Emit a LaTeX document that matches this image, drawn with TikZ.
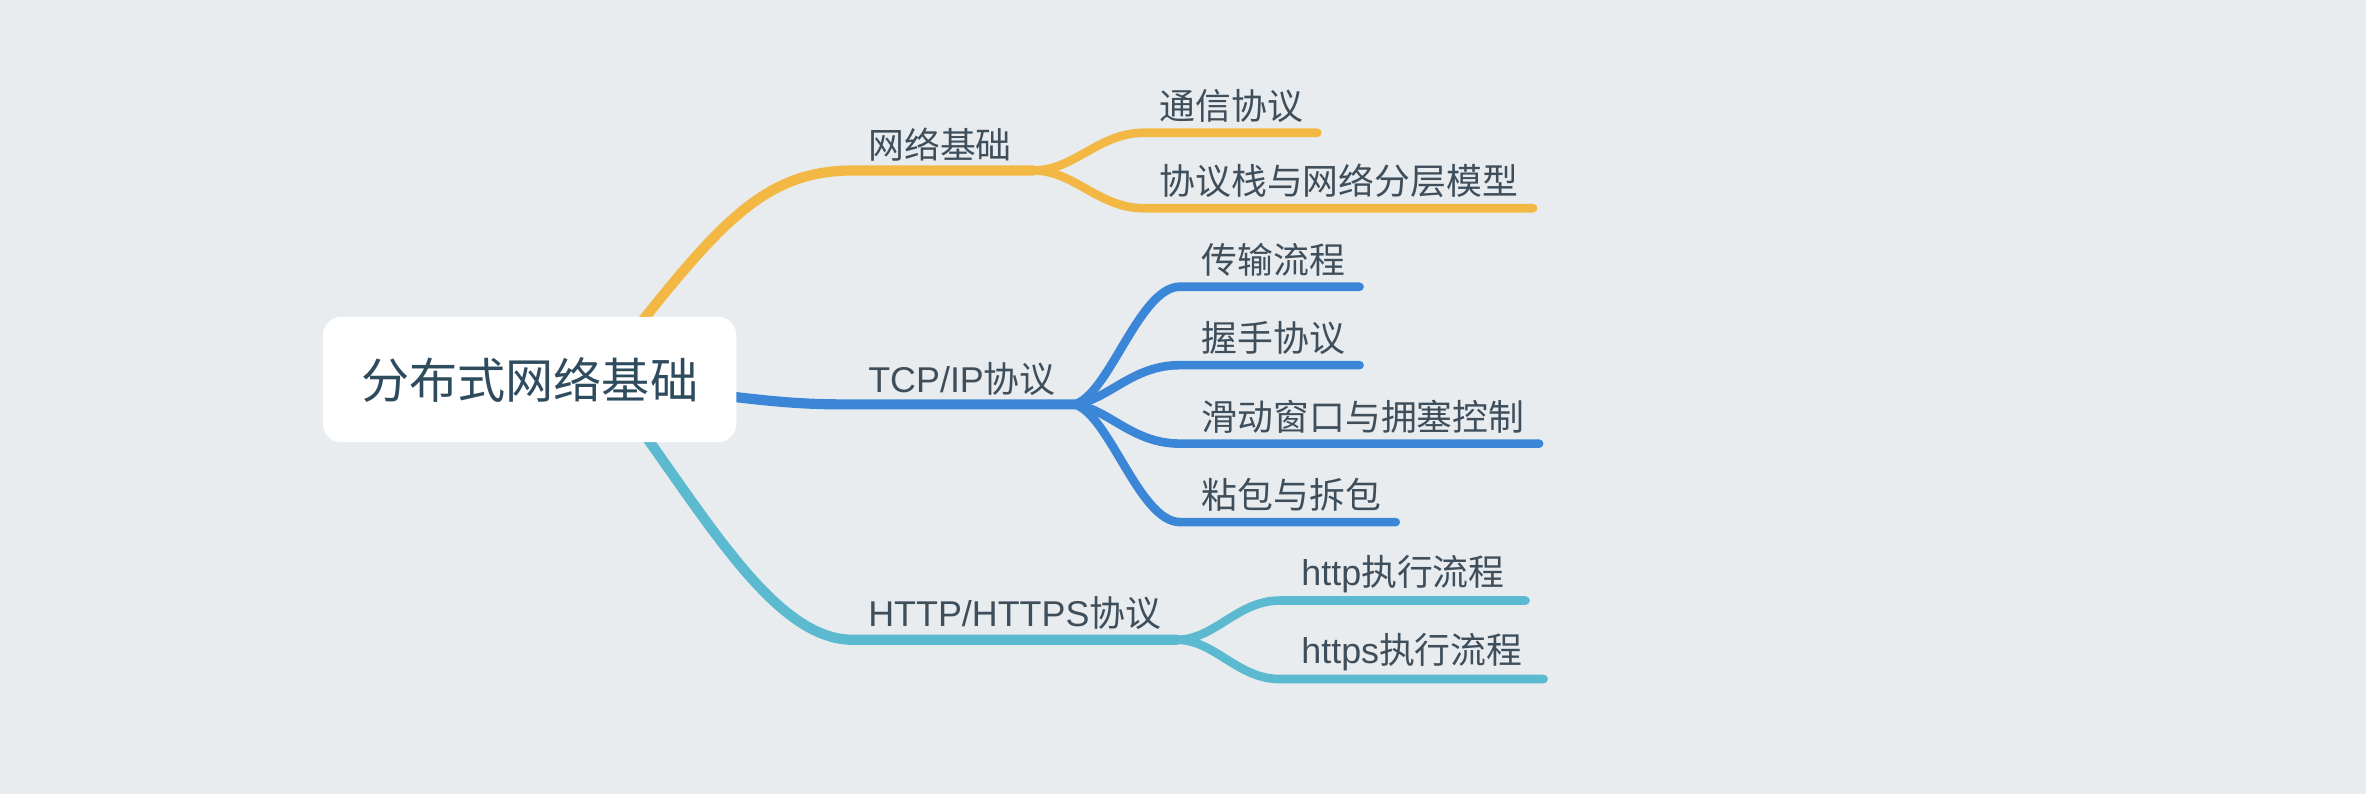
\documentclass[tikz,border=0pt]{standalone}
\usepackage{fontspec}
\setmainfont{Noto Sans CJK SC}
\newfontfamily\lat{Liberation Sans}
\definecolor{bgc}{HTML}{E8ECEF}
\definecolor{ycol}{HTML}{F3B844}
\definecolor{bcol}{HTML}{3C86D8}
\definecolor{tcol}{HTML}{5BB9D0}
\definecolor{txt}{HTML}{3F4E5B}
\definecolor{roottxt}{HTML}{2F4B5E}
\begin{document}
\begin{tikzpicture}[x=0.4293pt,y=-0.4293pt,
  mainline/.style={line width=2.9pt, line cap=round},
  subline/.style={line width=2.45pt, line cap=round},
  lbl/.style={anchor=base west, inner sep=0pt, font=\fontsize{10.2pt}{12pt}\selectfont, text=txt},
  rootbox/.style={fill=white, rounded corners=5.2pt, minimum width=117.6pt, minimum height=35.6pt, inner sep=0pt, font=\fontsize{13.7pt}{16pt}\selectfont, text=roottxt}]
\fill[bgc] (0,0) rectangle (1568,526);
\useasboundingbox (0,0) rectangle (1568,526);
% anchor points
\coordinate (ys) at (408,235);
\coordinate (yf) at (685,113);
\coordinate (bs) at (470,261);
\coordinate (bf) at (712,268);
\coordinate (ts) at (405,258);
\coordinate (tf) at (780,424);
\coordinate (ya) at (873,88);
\coordinate (yb) at (1016,138);
\coordinate (ba) at (901,190);
\coordinate (bb) at (901,242);
\coordinate (bc) at (1020,294);
\coordinate (bd) at (925,346);
\coordinate (ta) at (1011,398);
\coordinate (tb) at (1023,450);
% yellow
\draw[mainline, ycol] (ys) .. controls (475,150) and (505,113) .. (565,113) -- (yf);
\draw[subline, ycol] (yf) .. controls (712,113) and (728,88) .. (758,88) -- (ya);
\draw[subline, ycol] (yf) .. controls (712,113) and (728,138) .. (758,138) -- (yb);
% blue
\draw[mainline, bcol] (bs) .. controls (510,266) and (530,268) .. (560,268) -- (bf);
\draw[subline, bcol] (bf) .. controls (735,262) and (755,190) .. (782,190) -- (ba);
\draw[subline, bcol] (bf) .. controls (735,265) and (750,242) .. (782,242) -- (bb);
\draw[subline, bcol] (bf) .. controls (735,271) and (750,294) .. (782,294) -- (bc);
\draw[subline, bcol] (bf) .. controls (735,274) and (755,346) .. (782,346) -- (bd);
% teal
\draw[mainline, tcol] (ts) .. controls (462,332) and (510,424) .. (565,424) -- (tf);
\draw[subline, tcol] (tf) .. controls (805,424) and (820,398) .. (848,398) -- (ta);
\draw[subline, tcol] (tf) .. controls (805,424) and (820,450) .. (848,450) -- (tb);
% root
\node[rootbox] (root) at (351,251.5) {分布式网络基础};
% labels
\node[lbl] (n1) at (575,105) {网络基础};
\node[lbl] (n11) at (768,79) {通信协议};
\node[lbl] (n12) at (768,129) {协议栈与网络分层模型};
\node[lbl] (n2) at (575,260) {{\lat TCP/IP}协议};
\node[lbl] (n21) at (796,181) {传输流程};
\node[lbl] (n22) at (796,233) {握手协议};
\node[lbl] (n23) at (796,285) {滑动窗口与拥塞控制};
\node[lbl] (n24) at (796,337) {粘包与拆包};
\node[lbl] (n3) at (575,415) {{\lat HTTP/HTTPS}协议};
\node[lbl] (n31) at (862,388) {{\lat http}执行流程};
\node[lbl] (n32) at (862,440) {{\lat https}执行流程};
\end{tikzpicture}
\end{document}
